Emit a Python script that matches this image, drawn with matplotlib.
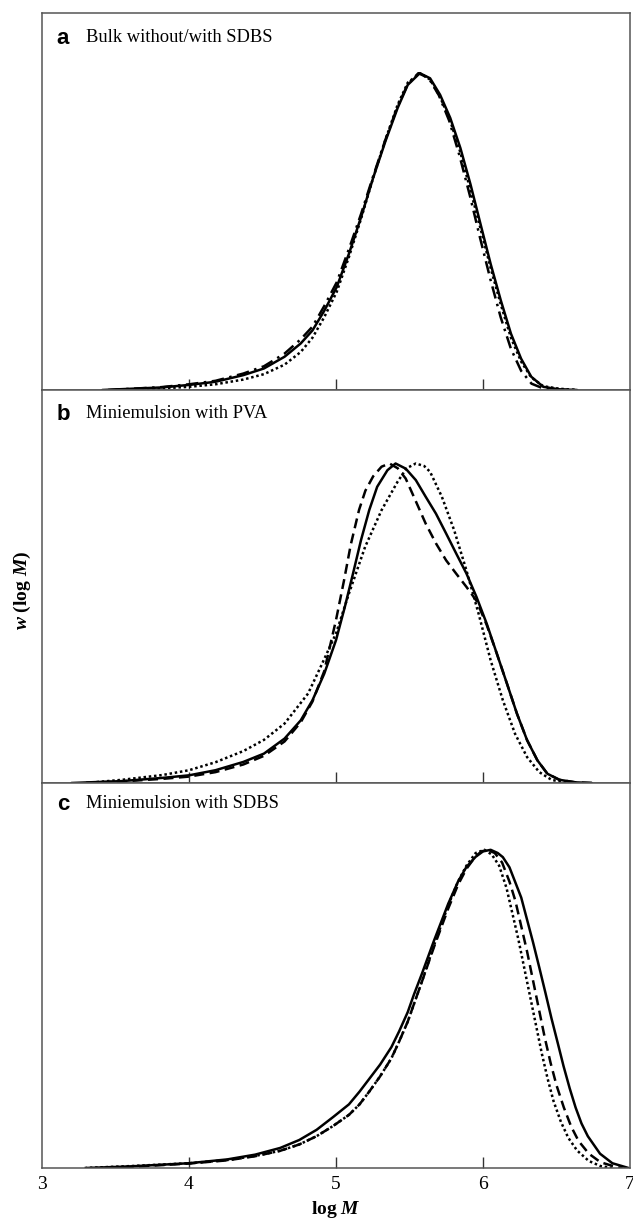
import matplotlib
matplotlib.use("Agg")
import matplotlib.pyplot as plt

plt.rcParams['font.family'] = ['Liberation Serif', 'DejaVu Serif']
plt.rcParams['mathtext.fontset'] = 'custom'
plt.rcParams['mathtext.rm'] = 'Liberation Serif'
plt.rcParams['mathtext.it'] = 'Liberation Serif:italic'
plt.rcParams['mathtext.bf'] = 'Liberation Serif:bold'
plt.rcParams['mathtext.bfit'] = 'Liberation Serif:italic:bold'

# ---------------- data (log M, normalised w(log M)) ----------------
panel_letters = ['a', 'b', 'c']
panel_titles = ['Bulk without/with SDBS', 'Miniemulsion with PVA', 'Miniemulsion with SDBS']
x_ticks = [3, 4, 5, 6, 7]
x_tick_labels = ['3', '4', '5', '6', '7']

# Panel a
a_solid_x = [3.41, 3.81, 4.0, 4.18, 4.37, 4.51, 4.65, 4.76, 4.84, 4.92, 5.005, 5.088, 5.17, 5.253, 5.336, 5.419, 5.488, 5.57, 5.64, 5.708, 5.777, 5.846, 5.915, 5.983, 6.052, 6.121, 6.19, 6.259, 6.328, 6.41, 6.52, 6.64]
a_solid_y = [0, 0.008, 0.016, 0.026, 0.047, 0.068, 0.105, 0.147, 0.188, 0.25, 0.325, 0.43, 0.545, 0.67, 0.785, 0.89, 0.963, 1.0, 0.984, 0.932, 0.859, 0.764, 0.649, 0.524, 0.398, 0.283, 0.178, 0.099, 0.042, 0.01, 0.002, 0]
a_dashdot_x = [3.45, 3.81, 4.0, 4.18, 4.37, 4.51, 4.65, 4.76, 4.84, 4.92, 5.005, 5.088, 5.17, 5.253, 5.336, 5.419, 5.488, 5.56, 5.63, 5.70, 5.77, 5.84, 5.91, 5.98, 6.05, 6.12, 6.19, 6.26, 6.33, 6.41, 6.52, 6.64]
a_dashdot_y = [0, 0.009, 0.018, 0.029, 0.052, 0.075, 0.115, 0.16, 0.2, 0.265, 0.34, 0.445, 0.555, 0.675, 0.79, 0.895, 0.965, 1.0, 0.985, 0.93, 0.85, 0.74, 0.615, 0.48, 0.35, 0.23, 0.13, 0.06, 0.02, 0.005, 0.001, 0]
a_dotted_x = [3.5, 3.81, 4.0, 4.18, 4.37, 4.51, 4.65, 4.76, 4.84, 4.92, 5.005, 5.088, 5.17, 5.253, 5.336, 5.419, 5.488, 5.57, 5.64, 5.708, 5.777, 5.846, 5.915, 5.983, 6.052, 6.121, 6.19, 6.259, 6.328, 6.41, 6.52, 6.64]
a_dotted_y = [0, 0.005, 0.01, 0.018, 0.033, 0.05, 0.08, 0.12, 0.165, 0.23, 0.31, 0.42, 0.54, 0.67, 0.79, 0.9, 0.97, 1.0, 0.98, 0.925, 0.85, 0.75, 0.63, 0.51, 0.385, 0.27, 0.165, 0.09, 0.04, 0.012, 0.004, 0]

# Panel b
b_solid_x = [3.2, 3.545, 3.82, 4.0, 4.18, 4.37, 4.51, 4.65, 4.76, 4.84, 4.92, 5.0, 5.06, 5.116, 5.17, 5.226, 5.28, 5.35, 5.405, 5.474, 5.543, 5.61, 5.68, 5.749, 5.818, 5.887, 5.956, 6.025, 6.094, 6.163, 6.231, 6.30, 6.37, 6.438, 6.52, 6.63, 6.74]
b_solid_y = [0, 0.006, 0.016, 0.024, 0.04, 0.066, 0.092, 0.139, 0.196, 0.259, 0.342, 0.447, 0.551, 0.656, 0.76, 0.854, 0.927, 0.979, 1.0, 0.984, 0.948, 0.896, 0.843, 0.781, 0.718, 0.656, 0.582, 0.499, 0.405, 0.311, 0.217, 0.134, 0.071, 0.029, 0.01, 0.002, 0]
b_dashed_x = [3.3, 3.545, 3.82, 4.0, 4.18, 4.37, 4.51, 4.65, 4.76, 4.84, 4.92, 4.965, 5.0, 5.055, 5.1, 5.157, 5.2, 5.253, 5.31, 5.364, 5.42, 5.474, 5.54, 5.61, 5.68, 5.749, 5.818, 5.887, 5.956, 6.025, 6.094, 6.163, 6.231, 6.30, 6.37, 6.438, 6.52, 6.63, 6.74]
b_dashed_y = [0, 0.005, 0.013, 0.02, 0.034, 0.058, 0.085, 0.13, 0.19, 0.255, 0.35, 0.44, 0.51, 0.635, 0.745, 0.855, 0.915, 0.96, 0.99, 1.0, 0.985, 0.953, 0.885, 0.812, 0.75, 0.697, 0.655, 0.614, 0.57, 0.495, 0.405, 0.311, 0.217, 0.134, 0.071, 0.029, 0.01, 0.002, 0]
b_dotted_x = [3.3, 3.545, 3.82, 4.0, 4.18, 4.37, 4.51, 4.65, 4.81, 4.895, 5.0, 5.088, 5.198, 5.31, 5.419, 5.48, 5.543, 5.60, 5.64, 5.72, 5.804, 5.887, 5.97, 6.052, 6.135, 6.218, 6.30, 6.383, 6.466, 6.548, 6.63]
b_dotted_y = [0, 0.01, 0.025, 0.04, 0.065, 0.10, 0.135, 0.186, 0.28, 0.363, 0.468, 0.593, 0.739, 0.854, 0.943, 0.985, 1.0, 0.992, 0.974, 0.896, 0.791, 0.666, 0.53, 0.384, 0.259, 0.154, 0.081, 0.034, 0.01, 0.002, 0]

# Panel c
c_solid_x = [3.3, 3.6, 4.0, 4.26, 4.45, 4.62, 4.75, 4.868, 4.98, 5.088, 5.16, 5.226, 5.30, 5.377, 5.43, 5.488, 5.53, 5.584, 5.667, 5.763, 5.83, 5.887, 5.95, 6.0, 6.052, 6.1, 6.135, 6.18, 6.218, 6.26, 6.30, 6.34, 6.383, 6.425, 6.466, 6.51, 6.548, 6.59, 6.63, 6.67, 6.713, 6.796, 6.88, 6.99]
c_solid_y = [0, 0.005, 0.015, 0.027, 0.042, 0.063, 0.088, 0.12, 0.16, 0.2, 0.24, 0.28, 0.325, 0.38, 0.43, 0.49, 0.545, 0.61, 0.715, 0.83, 0.9, 0.946, 0.978, 0.995, 1.0, 0.99, 0.977, 0.945, 0.90, 0.85, 0.78, 0.71, 0.63, 0.55, 0.47, 0.39, 0.32, 0.25, 0.19, 0.14, 0.10, 0.045, 0.015, 0]
c_dashed_x = [3.45, 3.7, 4.0, 4.26, 4.45, 4.62, 4.75, 4.868, 4.98, 5.088, 5.16, 5.226, 5.30, 5.377, 5.43, 5.488, 5.53, 5.584, 5.667, 5.763, 5.83, 5.887, 5.95, 5.99, 6.03, 6.08, 6.13, 6.18, 6.22, 6.26, 6.30, 6.34, 6.38, 6.42, 6.46, 6.50, 6.55, 6.60, 6.65, 6.72, 6.80, 6.9, 6.95]
c_dashed_y = [0, 0.006, 0.014, 0.024, 0.037, 0.054, 0.074, 0.1, 0.132, 0.167, 0.2, 0.24, 0.288, 0.345, 0.398, 0.46, 0.515, 0.585, 0.695, 0.815, 0.89, 0.94, 0.98, 0.995, 1.0, 0.99, 0.96, 0.90, 0.84, 0.76, 0.68, 0.59, 0.50, 0.41, 0.33, 0.26, 0.19, 0.13, 0.085, 0.045, 0.018, 0.004, 0]
c_dotted_x = [3.29, 3.6, 4.0, 4.26, 4.45, 4.62, 4.75, 4.868, 4.98, 5.088, 5.16, 5.226, 5.30, 5.377, 5.43, 5.488, 5.53, 5.584, 5.667, 5.763, 5.83, 5.887, 5.95, 6.01, 6.06, 6.11, 6.16, 6.20, 6.24, 6.28, 6.32, 6.36, 6.40, 6.44, 6.48, 6.53, 6.58, 6.64, 6.72, 6.80, 6.88]
c_dotted_y = [0, 0.006, 0.015, 0.025, 0.038, 0.054, 0.074, 0.1, 0.132, 0.167, 0.2, 0.24, 0.288, 0.345, 0.398, 0.46, 0.515, 0.585, 0.70, 0.825, 0.90, 0.95, 0.99, 1.0, 0.985, 0.95, 0.88, 0.80, 0.72, 0.63, 0.54, 0.45, 0.36, 0.28, 0.21, 0.145, 0.095, 0.055, 0.022, 0.006, 0]

DASHDOT = (0, (5, 2.2, 1, 2.2))
DASHED = (0, (4, 2.2))
DOTTED = (0, (1, 1.1))
panels = [
    [(a_solid_x, a_solid_y, '-'), (a_dashdot_x, a_dashdot_y, DASHDOT), (a_dotted_x, a_dotted_y, DOTTED)],
    [(b_solid_x, b_solid_y, '-'), (b_dashed_x, b_dashed_y, DASHED), (b_dotted_x, b_dotted_y, DOTTED)],
    [(c_solid_x, c_solid_y, '-'), (c_dashed_x, c_dashed_y, DASHED), (c_dotted_x, c_dotted_y, DOTTED)],
]
y_tops = [1.19, 1.23, 1.21]
label_offsets_px = [25, 24, 21]

# ---------------- figure ----------------
W, H = 633, 1224
fig = plt.figure(figsize=(W / 100, H / 100), dpi=100)
left, right = 42 / W, 630 / W
edges_px = [13, 390, 783, 1168]
frame_col = '#555555'

for i in range(3):
    top = 1 - edges_px[i] / H
    bot = 1 - edges_px[i + 1] / H
    ax = fig.add_axes([left, bot, right - left, top - bot])
    for xs, ys, ls in panels[i]:
        ax.plot(xs, ys, color='black', lw=1.8, linestyle=ls,
                solid_capstyle='round', solid_joinstyle='round')
    ax.set_xlim(3, 7)
    ax.set_ylim(0, y_tops[i])
    ax.set_yticks([])
    ax.set_xticks(x_ticks)
    ax.tick_params(axis='x', direction='in', length=8, width=1, color='#333333')
    ticks = ax.xaxis.get_major_ticks()
    ticks[0].tick1line.set_visible(False)
    ticks[-1].tick1line.set_visible(False)
    if i < 2:
        ax.set_xticklabels([])
    else:
        ax.set_xticklabels(x_tick_labels, fontsize=14)
        ax.tick_params(axis='x', pad=6)
    for s in ax.spines.values():
        s.set_color(frame_col)
        s.set_linewidth(1.1)
    hpx = edges_px[i + 1] - edges_px[i]
    ty = 1 - label_offsets_px[i] / hpx
    ax.text(0.025, ty, panel_letters[i], transform=ax.transAxes,
            fontsize=16, fontweight='bold', family='Liberation Sans', va='center', ha='left')
    ax.text(0.075, ty, panel_titles[i], transform=ax.transAxes,
            fontsize=13.3, va='center', ha='left')

fig.text((42 + 630) / 2 / W, 1 - 1210 / H, r'log $\mathbfit{M}$', fontsize=14,
         fontweight='bold', ha='center', va='center')
fig.text(22 / W, 1 - 590 / H, r'$\mathbfit{w}$ (log $\mathbfit{M}$)', fontsize=14,
         fontweight='bold', rotation=90, ha='center', va='center')

fig.savefig('out.png', dpi=100)
